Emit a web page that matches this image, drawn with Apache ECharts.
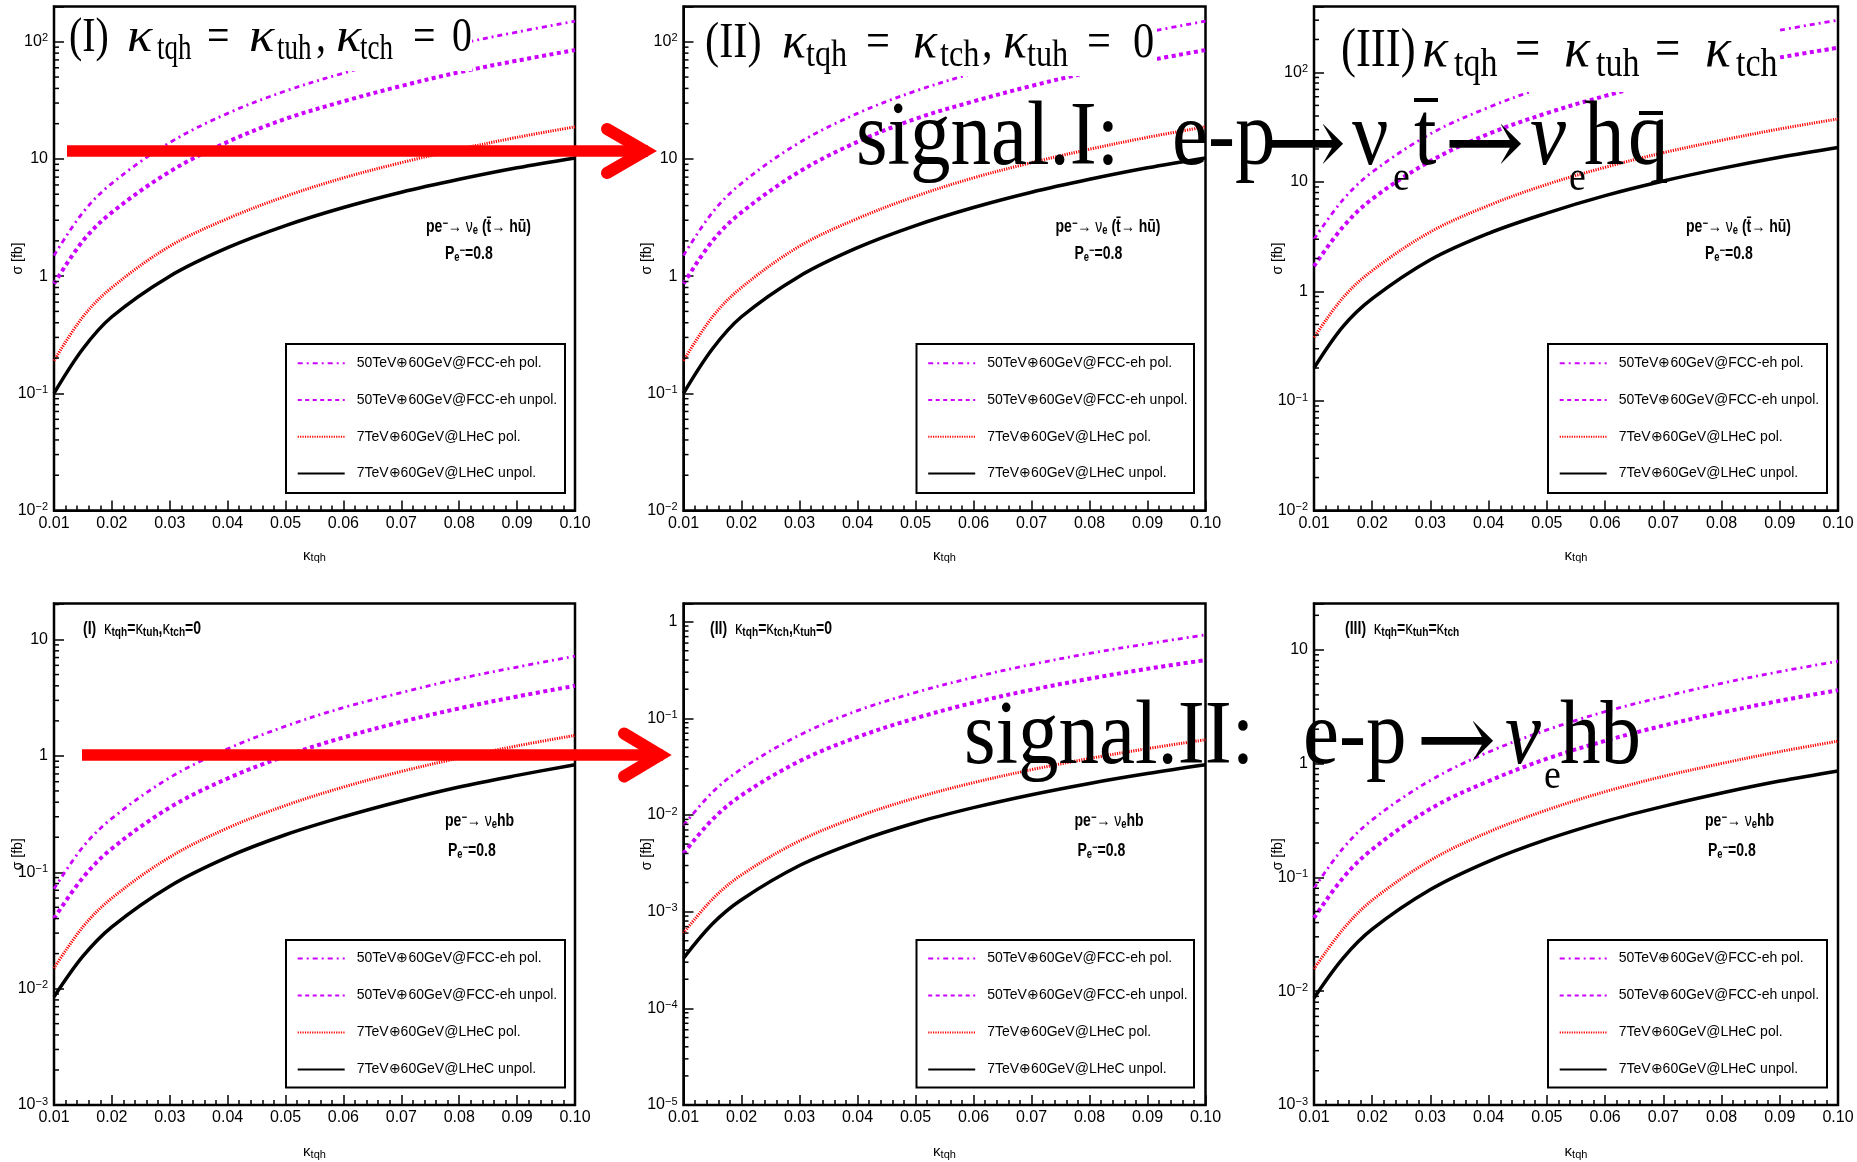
<!DOCTYPE html>
<html>
<head>
<meta charset="utf-8">
<title>FCNC tqh cross sections</title>
<script src="https://cdn.jsdelivr.net/npm/echarts@6/dist/echarts.min.js"></script>
<style>
  html, body { margin: 0; padding: 0; background: #fff; overflow: hidden; }
  #chart { width: 1857px; height: 1162px; }
</style>
</head>
<body>
<div id="chart"></div>
<script>
// ---- data -------------------------------------------------------------
const kappa = [0.01, 0.015, 0.02, 0.03, 0.04, 0.05, 0.06, 0.07, 0.08, 0.09, 0.10];
const seriesNames = [
  '50TeV\u229560GeV@FCC-eh pol.',
  '50TeV\u229560GeV@FCC-eh unpol.',
  '7TeV\u229560GeV@LHeC pol.',
  '7TeV\u229560GeV@LHeC unpol.'
];

// signal I (pe- -> nu_e tbar, tbar -> h qbar), scenario (I)
const s1FccPol    = [1.5, 3.5, 6.2, 13.8, 24.5, 38, 54, 73, 96, 121, 150];
const s1FccUnpol  = [0.86, 2.0, 3.5, 7.8, 14, 22, 31, 42, 55, 69, 85];
const s1LhecPol   = [0.19, 0.45, 0.8, 1.8, 3.1, 4.8, 6.9, 9.3, 12.1, 15.3, 18.8];
const s1LhecUnpol = [0.10, 0.24, 0.45, 1.0, 1.75, 2.7, 3.85, 5.2, 6.7, 8.4, 10.2];
// signal I, scenario (II)
const s2FccPol    = [1.5, 3.5, 6.2, 13.8, 24.5, 38, 54, 73, 96, 121, 150];
const s2FccUnpol  = [0.86, 2.0, 3.5, 7.8, 14, 22, 31, 42, 55, 69, 85];
const s2LhecPol   = [0.19, 0.45, 0.8, 1.8, 3.1, 4.8, 6.9, 9.3, 12.1, 15.3, 18.8];
const s2LhecUnpol = [0.10, 0.24, 0.45, 1.0, 1.75, 2.7, 3.85, 5.2, 6.7, 8.4, 10.2];
// signal I, scenario (III)
const s3FccPol    = [3.0, 6.9, 12.3, 27.5, 48, 75, 108, 147, 192, 243, 300];
const s3FccUnpol  = [1.7, 3.9, 7.0, 15.5, 27.5, 42.5, 61, 83, 108, 137, 168];
const s3LhecPol   = [0.38, 0.88, 1.55, 3.5, 6.1, 9.5, 13.6, 18.5, 24, 30.5, 37.6];
const s3LhecUnpol = [0.20, 0.48, 0.86, 1.95, 3.4, 5.2, 7.5, 10.2, 13.3, 16.8, 20.6];
// signal II (pe- -> nu_e h b), scenario (I)
const s4FccPol    = [0.072, 0.165, 0.29, 0.65, 1.15, 1.8, 2.6, 3.5, 4.6, 5.8, 7.2];
const s4FccUnpol  = [0.04, 0.09, 0.16, 0.36, 0.64, 1.0, 1.44, 1.96, 2.56, 3.24, 4.0];
const s4LhecPol   = [0.015, 0.034, 0.06, 0.135, 0.24, 0.375, 0.54, 0.735, 0.96, 1.22, 1.5];
const s4LhecUnpol = [0.0085, 0.019, 0.034, 0.076, 0.135, 0.21, 0.30, 0.41, 0.54, 0.68, 0.84];
// signal II, scenario (II)
const s5FccPol    = [0.0078, 0.0172, 0.030, 0.067, 0.12, 0.185, 0.265, 0.36, 0.47, 0.59, 0.73];
const s5FccUnpol  = [0.004, 0.009, 0.016, 0.036, 0.064, 0.10, 0.145, 0.197, 0.257, 0.325, 0.40];
const s5LhecPol   = [0.0006, 0.00135, 0.0024, 0.0054, 0.0096, 0.015, 0.0216, 0.0294, 0.0384, 0.0486, 0.06];
const s5LhecUnpol = [0.00033, 0.00075, 0.00133, 0.003, 0.0053, 0.0083, 0.0119, 0.0162, 0.0212, 0.0268, 0.033];
// signal II, scenario (III)
const s6FccPol    = [0.08, 0.18, 0.32, 0.71, 1.26, 1.97, 2.85, 3.85, 5.05, 6.4, 7.9];
const s6FccUnpol  = [0.044, 0.099, 0.176, 0.40, 0.70, 1.1, 1.58, 2.15, 2.8, 3.55, 4.4];
const s6LhecPol   = [0.0157, 0.035, 0.063, 0.141, 0.25, 0.39, 0.565, 0.77, 1.0, 1.27, 1.57];
const s6LhecUnpol = [0.0087, 0.0195, 0.035, 0.078, 0.138, 0.215, 0.31, 0.42, 0.55, 0.70, 0.86];

// y-axis ranges of the six pads
const yMins = [0.01, 0.01, 0.01, 0.001, 0.00001, 0.001];
const yMaxs = [200, 200, 400, 20.4, 1.54, 25.4];

// ---- layout & style ----------------------------------------------------
const SANS = "'Liberation Sans',Arial,Helvetica,sans-serif";
const SERIF = "'Liberation Serif','Times New Roman',serif";
const ARROWFONT = "'DejaVu Serif',serif";

const grids = [
  { left: 54,    top: 6.5,   width: 521, height: 504 },
  { left: 683.5, top: 6.5,   width: 522, height: 504 },
  { left: 1314,  top: 6.5,   width: 524, height: 504 },
  { left: 54,    top: 603.5, width: 521, height: 501.5 },
  { left: 683.5, top: 603.5, width: 522, height: 501.5 },
  { left: 1314,  top: 603.5, width: 524, height: 501.5 }
];
const panelData = [
  [s1FccPol, s1FccUnpol, s1LhecPol, s1LhecUnpol],
  [s2FccPol, s2FccUnpol, s2LhecPol, s2LhecUnpol],
  [s3FccPol, s3FccUnpol, s3LhecPol, s3LhecUnpol],
  [s4FccPol, s4FccUnpol, s4LhecPol, s4LhecUnpol],
  [s5FccPol, s5FccUnpol, s5LhecPol, s5LhecUnpol],
  [s6FccPol, s6FccUnpol, s6LhecPol, s6LhecUnpol]
];
const lineStyles = [
  { color: '#cc00ff', width: 2.8, type: [5, 4, 2, 4] },
  { color: '#cc00ff', width: 4,   type: [4, 3.5] },
  { color: '#ff0000', width: 3,   type: [1.2, 1.2] },
  { color: '#000000', width: 3.5, type: 'solid' }
];
const legendBoxes = [
  [286, 344, 279, 149], [916.5, 344, 277.5, 149], [1548, 344, 279, 149],
  [286, 940, 279, 147.5], [916.5, 940, 277.5, 147.5], [1548, 940, 279, 147.5]
];

function expLabel(v) {
  const l = Math.log10(v);
  const e = Math.round(l);
  if (Math.abs(l - e) > 1e-6) return '';
  if (e === 0) return '1';
  if (e === 1) return '10';
  return '10{sup|' + (e < 0 ? '\u2212' + (-e) : e) + '}';
}

// short ticks at 2..9 x 10^n along the left edge of a log pad
function minorTicks(i) {
  const lo = yMins[i], hi = yMaxs[i];
  const pts = [];
  for (let e = Math.floor(Math.log10(lo)); e <= Math.ceil(Math.log10(hi)); e++) {
    for (let m = 2; m <= 9; m++) {
      const v = m * Math.pow(10, e);
      if (v > lo * 1.0001 && v < hi) pts.push([0.01, v]);
    }
  }
  return {
    type: 'custom', xAxisIndex: i, yAxisIndex: i, silent: true, z: 6,
    data: pts,
    renderItem: function (params, api) {
      const p = api.coord([api.value(0), api.value(1)]);
      return { type: 'line', shape: { x1: p[0], y1: p[1], x2: p[0] + 5, y2: p[1] },
               style: { stroke: '#000', lineWidth: 1.5 } };
    }
  };
}

const grid = grids.map(g => Object.assign({ show: true, borderColor: '#000', borderWidth: 2.5,
  backgroundColor: 'transparent', containLabel: false }, g));

const xAxis = grids.map((g, i) => ({
  gridIndex: i, type: 'value', min: 0.01, max: 0.10, interval: 0.01,
  axisLine: { show: true, onZero: false, lineStyle: { color: '#000', width: 2 } },
  axisTick: { show: true, inside: true, length: 10, lineStyle: { color: '#000', width: 1.5 } },
  minorTick: { show: true, splitNumber: 5, length: 5, lineStyle: { color: '#000', width: 1.5 } },
  splitLine: { show: false }, minorSplitLine: { show: false },
  axisLabel: { color: '#000', fontFamily: SANS, fontSize: 16, margin: 5,
               formatter: v => v.toFixed(2) },
  name: '{k|\u03ba}{s|tqh}', nameLocation: 'middle', nameGap: i < 3 ? 37 : 39,
  nameMoveOverlap: false,
  nameTextStyle: { color: '#000', fontFamily: SANS,
    rich: { k: { fontSize: 15, fontFamily: SANS, lineHeight: 16 },
            s: { fontSize: 11, fontFamily: SANS, verticalAlign: 'bottom', lineHeight: 6 } } }
}));

const yAxis = grids.map((g, i) => ({
  gridIndex: i, type: 'log', logBase: 10, min: yMins[i], max: yMaxs[i],
  axisLine: { show: true, onZero: false, lineStyle: { color: '#000', width: 2 } },
  axisTick: { show: true, inside: true, length: 10, lineStyle: { color: '#000', width: 1.5 } },
  splitLine: { show: false },
  axisLabel: { color: '#000', fontFamily: SANS, fontSize: 16, lineHeight: 18, margin: 6,
    showMinLabel: true, showMaxLabel: true, formatter: expLabel,
    rich: { sup: { fontSize: 11, fontFamily: SANS, verticalAlign: 'top', lineHeight: 8 } } },
  name: '\u03c3 [fb]', nameLocation: 'middle', nameGap: 29, nameRotate: 90,
  nameMoveOverlap: false,
  nameTextStyle: { color: '#000', fontFamily: SANS, fontSize: 14 }
}));

const series = [];
panelData.forEach((sets, i) => {
  sets.forEach((vals, k) => {
    series.push({
      type: 'line', name: seriesNames[k], xAxisIndex: i, yAxisIndex: i,
      data: kappa.map((x, j) => [x, vals[j]]),
      symbol: 'none', smooth: 0.35, z: 3,
      lineStyle: lineStyles[k], itemStyle: { color: lineStyles[k].color }
    });
  });
  series.push(minorTicks(i));
});

const legend = legendBoxes.map((b, i) => ({
  data: seriesNames, orient: 'vertical', left: b[0] + 10.7, top: b[1] + (i < 3 ? 11.3 : 10.5),
  itemWidth: 47, itemHeight: 14, itemGap: i < 3 ? 20.7 : 21, padding: 0,
  selectedMode: false, itemStyle: { opacity: 0 },
  textStyle: { color: '#000', fontFamily: SANS, fontSize: 14, lineHeight: 16, padding: [0, 0, 0, 7] }
}));

// ---- overlay text and arrows -------------------------------------------
const graphics = [];

legendBoxes.forEach(b => graphics.push({
  type: 'rect', z: 20, silent: true, shape: { x: b[0], y: b[1], width: b[2], height: b[3] },
  style: { fill: 'none', stroke: '#000', lineWidth: 2 }
}));

// pad annotations (narrow bold sans)
const annRich = {
  b:   { fontFamily: SANS, fontWeight: 'bold', fontSize: 18, lineHeight: 19 },
  n:   { fontFamily: SANS, fontSize: 18, lineHeight: 19 },
  k:   { fontFamily: SANS, fontSize: 19, lineHeight: 19 },
  sub: { fontFamily: SANS, fontWeight: 'bold', fontSize: 12, verticalAlign: 'bottom', lineHeight: 6 },
  sup: { fontFamily: SANS, fontWeight: 'bold', fontSize: 12, verticalAlign: 'top', lineHeight: 7 },
  s:   { fontFamily: SANS, fontWeight: 'bold', fontSize: 13, verticalAlign: 'bottom', lineHeight: 7 }
};
function ann(x, y, text) {
  return { type: 'text', x: x, y: y, z: 25, silent: true, scaleX: 0.78,
    style: { text: text, rich: annRich, fill: '#000', align: 'left', verticalAlign: 'middle',
             fontFamily: SANS, fontSize: 18 } };
}
const procTop = '{b|pe}{sup|\u2212}{n|\u2192 \u03bd}{sub|e}{b| (t\u0304\u2192 hu\u0304)}';
const procBot = '{b|pe}{sup|\u2212}{n|\u2192 \u03bd}{sub|e}{b|hb}';
const polText = '{b|P}{sub|e}{sup|\u2212}{b|=0.8}';
const scen = [
  '{b|(I)}  {k|\u03ba}{s|tqh}{b|=}{k|\u03ba}{s|tuh}{b|,}{k|\u03ba}{s|tch}{b|=0}',
  '{b|(II)}  {k|\u03ba}{s|tqh}{b|=}{k|\u03ba}{s|tch}{b|,}{k|\u03ba}{s|tuh}{b|=0}',
  '{b|(III)}  {k|\u03ba}{s|tqh}{b|=}{k|\u03ba}{s|tuh}{b|=}{k|\u03ba}{s|tch}'
];
const scenX = [83, 710, 1345];
[0, 1, 2].forEach(c => {
  const L = grids[c].left;
  graphics.push(ann(L + 372, 227, procTop));
  graphics.push(ann(L + 391, 254, polText));
  graphics.push(ann(L + 391, 821, procBot));
  graphics.push(ann(L + 394, 851, polText));
  graphics.push(ann(scenX[c], 629, scen[c]));
});

// large serif captions
function piece(x, yMid, str, size, sx, italic, family) {
  return { type: 'text', x: x, y: yMid, z: 41, silent: true, scaleX: sx,
    style: { text: str, fontFamily: family || SERIF, fontSize: size,
             fontStyle: italic ? 'italic' : 'normal',
             fill: '#000', align: 'left', verticalAlign: 'middle' } };
}
function caption(parts, c) {
  parts.forEach(p => {
    if (p[2] === 's') graphics.push(piece(p[0], c.subBase - 0.34 * c.subSize, p[1], c.subSize, c.subSx));
    else if (p[2] === 'a') graphics.push(piece(p[0], c.arrowY, p[1], 96, 1, false, ARROWFONT));
    else if (p[2] === 'k') graphics.push(piece(p[0], c.base - 0.34 * c.size, p[1], c.size, c.kSx || c.sx, true));
    else graphics.push(piece(p[0], c.base - 0.34 * c.size, p[1], c.size, c.sx, false));
  });
}
// white boxes behind the scenario captions
[[64, 9, 408, 62], [698, 9, 459, 67], [1335, 9, 443, 83]].forEach(b => graphics.push({
  type: 'rect', z: 30, silent: true, shape: { x: b[0], y: b[1], width: b[2], height: b[3] },
  style: { fill: '#fff', stroke: 'none' }
}));
caption([[69, '(I)', 'r'], [127, '\u03ba', 'k'], [157, 'tqh', 's'], [207, '=', 'r'],
         [249, '\u03ba', 'k'], [277, 'tuh', 's'], [316, ',', 'r'], [336, '\u03ba', 'k'],
         [360, 'tch', 's'], [413, '=', 'r'], [452, '0', 'r']],
        { base: 55, subBase: 61.5, size: 48, subSize: 36, sx: 0.83, kSx: 1.1, subSx: 0.75 });
caption([[705, '(II)', 'r'], [782, '\u03ba', 'k'], [806, 'tqh', 's'], [866, '=', 'r'],
         [913, '\u03ba', 'k'], [940, 'tch', 's'], [982, ',', 'r'], [1003, '\u03ba', 'k'],
         [1027, 'tuh', 's'], [1087, '=', 'r'], [1133, '0', 'r']],
        { base: 61, subBase: 68.5, size: 50, subSize: 38, sx: 0.85, kSx: 1.0, subSx: 0.85 });
caption([[1341, '(III)', 'r'], [1422, '\u03ba', 'k'], [1454, 'tqh', 's'], [1515, '=', 'r'],
         [1564, '\u03ba', 'k'], [1596, 'tuh', 's'], [1655, '=', 'r'], [1705, '\u03ba', 'k'],
         [1736, 'tch', 's']],
        { base: 70.5, subBase: 79, size: 54, subSize: 40, sx: 0.83, kSx: 1.0, subSx: 0.85 });

// process captions
caption([[856, 'signal.I:', 'r'], [1172, 'e-p', 'r'], [1266, '\u2192', 'a'], [1352, '\u03bd', 'r'],
         [1393, 'e', 's'], [1414, 't', 'r'], [1444, '\u2192', 'a'], [1530, '\u03bd', 'k'],
         [1569, 'e', 's'], [1584, 'h', 'r'], [1628, 'q', 'r']],
        { base: 171, subBase: 193, size: 90, subSize: 42, sx: 0.9, subSx: 0.9, arrowY: 150 });
caption([[964, 'signal.II:', 'r'], [1303, 'e-p', 'r'], [1416, '\u2192', 'a'], [1505, '\u03bd', 'k'],
         [1544, 'e', 's'], [1560, 'hb', 'r']],
        { base: 770, subBase: 791, size: 90, subSize: 42, sx: 0.9, subSx: 0.9, arrowY: 747 });
// bars over t and q
[[1414, 1438, 100], [1639, 1663, 113]].forEach(m => graphics.push({
  type: 'line', z: 41, silent: true, shape: { x1: m[0], y1: m[2], x2: m[1], y2: m[2] },
  style: { stroke: '#000', lineWidth: 4 }
}));

// red arrows
function arrow(x0, xv, y, armX, half) {
  graphics.push({ type: 'polyline', z: 50, silent: true, shape: { points: [[x0, y], [xv + 3, y]] },
    style: { stroke: '#ff0000', lineWidth: 11.5, fill: 'none' } });
  graphics.push({ type: 'polyline', z: 50, silent: true,
    shape: { points: [[armX, y - half], [xv, y], [armX, y + half]] },
    style: { stroke: '#ff0000', lineWidth: 12, lineJoin: 'miter', lineCap: 'round', fill: 'none' } });
}
arrow(67, 645, 151, 607, 22);
arrow(82, 660, 755, 624, 21.5);

const chart = echarts.init(document.getElementById('chart'), null, { renderer: 'canvas' });
chart.setOption({
  backgroundColor: '#ffffff',
  animation: false,
  grid: grid, xAxis: xAxis, yAxis: yAxis, legend: legend, series: series,
  graphic: { elements: graphics }
});
</script>
</body>
</html>
